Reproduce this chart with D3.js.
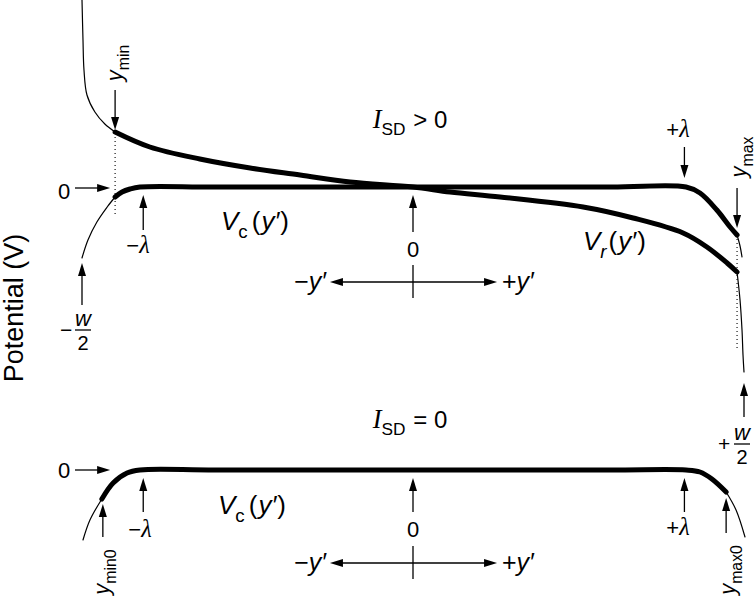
<!DOCTYPE html>
<html><head><meta charset="utf-8">
<script src="https://cdn.jsdelivr.net/npm/d3@7"></script>
<style>body{margin:0;background:#fff}svg{display:block}</style>
</head><body>
<svg id="c" width="755" height="597"></svg>
<script>
// ---- data (y' in units of w/2, potential in arbitrary units) ----
const vrTopLeftThin  = [[-1.000,1.87],[-0.997,1.47],[-0.994,1.17],[-0.985,0.92],[-0.961,0.75],[-0.931,0.63],[-0.900,0.55]];
const vrTopThick     = [[-0.900,0.55],[-0.795,0.40],[-0.644,0.28],[-0.492,0.19],[-0.341,0.12],[-0.190,0.05],[0,0],[0.112,-0.05],[0.263,-0.10],[0.514,-0.20],[0.665,-0.31],[0.816,-0.46],[0.888,-0.60],[0.949,-0.76],[0.979,-0.85]];
const vrTopRightThin = [[0.979,-0.85],[0.988,-1.13],[0.994,-1.43],[0.997,-1.68],[1.000,-1.85]];
const vcTopLeftThin  = [[-1.000,-0.71],[-0.982,-0.53],[-0.955,-0.35],[-0.924,-0.20],[-0.900,-0.10]];
const vcTopThick     = [[-0.900,-0.10],[-0.879,-0.05],[-0.855,-0.02],[-0.825,0],[-0.6,0],[0,0],[0.6,0],[0.825,0],[0.867,-0.06],[0.918,-0.23],[0.958,-0.40],[0.979,-0.48]];
const vcTopRightThin = [[0.979,-0.48],[0.988,-0.59],[0.994,-0.70]];
const vcBotLeftThin  = [[-0.997,-0.70],[-0.976,-0.50],[-0.940,-0.29]];
const vcBotThick     = [[-0.940,-0.29],[-0.906,-0.13],[-0.864,-0.03],[-0.825,0],[-0.6,0],[0,0],[0.6,0],[0.825,0],[0.867,-0.02],[0.903,-0.09],[0.946,-0.22]];
const vcBotRightThin = [[0.946,-0.22],[0.976,-0.40],[1.003,-0.67]];

// positions of the marked points along y'
const markNames = ["-lambda","+lambda","ymin","ymax","ymin0","ymax0","-w/2","+w/2","0"];
const markPos   = [-0.815, 0.82, -0.900, 0.979, -0.937, 0.946, -1.0, 1.0, 0];
const M = Object.fromEntries(markNames.map((n,i)=>[n,markPos[i]]));

const SANS = "'Liberation Sans', Arial, Helvetica, sans-serif";
const SERIF = "'Liberation Serif', 'Times New Roman', serif";

const svg = d3.select("#c");
const xS = d3.scaleLinear().domain([-1,1]).range([82,744]);
const yT = d3.scaleLinear().domain([-1,1]).range([287,87]);
const yB = d3.scaleLinear().domain([-1,1]).range([570,370]);

function curve(data, ys, w){
  const line = d3.line().x(d=>xS(d[0])).y(d=>ys(d[1])).curve(d3.curveCatmullRom.alpha(0.5));
  svg.append("path").attr("d", line(data)).attr("fill","none").attr("stroke","#000")
    .attr("stroke-width", w).attr("stroke-linecap","round").attr("stroke-linejoin","round");
}
curve(vrTopLeftThin, yT, 1.2);
curve(vrTopThick, yT, 5);
curve(vrTopRightThin, yT, 1.2);
curve(vcTopLeftThin, yT, 1.2);
curve(vcTopThick, yT, 5);
curve(vcTopRightThin, yT, 1.2);
curve(vcBotLeftThin, yB, 1.2);
curve(vcBotThick, yB, 5);
curve(vcBotRightThin, yB, 1.2);

// dotted guides
function dotted(x, y1, y2){
  svg.append("line").attr("x1",x).attr("x2",x).attr("y1",y1).attr("y2",y2)
    .attr("stroke","#000").attr("stroke-width",1.1).attr("stroke-dasharray","1,3");
}
dotted(xS(M.ymin), yT(0.54), yT(-0.28));
dotted(xS(M.ymax), yT(-0.48), yT(-1.63));

// arrows: from (x1,y1) to tip (x2,y2)
function arrow(x1,y1,x2,y2){
  const L=13, H=4;
  const dx=x2-x1, dy=y2-y1, len=Math.hypot(dx,dy), ux=dx/len, uy=dy/len;
  const bx=x2-ux*L, by=y2-uy*L;
  svg.append("line").attr("x1",x1).attr("y1",y1).attr("x2",bx+ux*2).attr("y2",by+uy*2)
    .attr("stroke","#000").attr("stroke-width",1.3);
  svg.append("path").attr("d",`M${x2},${y2}L${bx-uy*H},${by+ux*H}L${bx+uy*H},${by-ux*H}Z`).attr("fill","#000");
}
function up(x, tipY, len){ arrow(x, tipY+len, x, tipY); }
function down(x, tipY, len){ arrow(x, tipY-len, x, tipY); }

// top panel arrows
down(xS(M.ymin), yT(0.57), 40);
arrow(75, yT(-0.01), xS(-0.915), yT(-0.01));
up(xS(M["-lambda"]), yT(-0.08), 35);
up(xS(M["-w/2"]), yT(-0.76), 42);
up(xS(M["0"]), yT(-0.08), 37);
down(xS(M["+lambda"]), yT(0.09), 31);
down(xS(M.ymax), yT(-0.41), 40);
up(xS(M["+w/2"]), yT(-1.96), 34);
// y' axis
function yAxis(ys, v){
  const cx = xS(0), y = ys(v);
  arrow(cx, y, xS(-0.251), y);
  arrow(cx, y, xS(0.254), y);
  svg.append("line").attr("x1",cx).attr("x2",cx).attr("y1",y-17).attr("y2",y+16).attr("stroke","#000").attr("stroke-width",1.3);
}
yAxis(yT, -0.95);

// bottom panel arrows
arrow(75, yB(0), xS(-0.915), yB(0));
up(xS(M.ymin0), yB(-0.34), 33);
up(xS(M["-lambda"]), yB(-0.08), 34);
up(xS(M["0"]), yB(-0.08), 34);
up(xS(M["+lambda"]), yB(-0.08), 34);
up(xS(M.ymax0), yB(-0.28), 35);
yAxis(yB, -0.93);

// rich text helper
function rich(x, y, segs, opt={}){
  const size = opt.size || 22;
  const t = svg.append("text").attr("transform",`translate(${x},${y}) rotate(${opt.rotate||0})`)
    .attr("text-anchor", opt.anchor||"start").attr("font-size", size).attr("font-family", SANS).attr("fill","#000");
  let shift = 0;
  segs.forEach(s=>{
    const ts = t.append("tspan").text(s.t);
    const target = s.sub ? size*0.3 : 0;
    ts.attr("dy", target-shift); shift = target;
    if (s.sub) ts.attr("font-size", size*0.72);
    if (s.it) ts.attr("font-style","italic");
    if (s.serif) { ts.attr("font-family", SERIF); if(!s.sub) ts.attr("font-size", size*1.1); }
    if (s.dx) ts.attr("dx", s.dx);
  });
  return t;
}
const P = "\u2032", MINUS = "\u2212";

// top panel labels
rich(410, 128, [{t:"I",it:1,serif:1},{t:"SD",sub:1},{t:" > 0",dx:1}], {anchor:"middle", size:24});
rich(64, 199, [{t:"0"}], {anchor:"middle"});
rich(138, 253, [{t:MINUS},{t:"\u03BB",it:1,serif:1}], {anchor:"middle"});
rich(678, 137, [{t:"+"},{t:"\u03BB",it:1,serif:1}], {anchor:"middle"});
rich(413, 257, [{t:"0"}], {anchor:"middle"});
rich(326, 290, [{t:MINUS},{t:"y"+P,it:1}], {anchor:"end", size:25});
rich(502, 290, [{t:"+"},{t:"y"+P,it:1}], {anchor:"start", size:25});
rich(221, 230, [{t:"V",it:1},{t:"c",sub:1},{t:"(",dx:4},{t:"y"+P,it:1,dx:1},{t:")",dx:1}], {size:26});
rich(583, 250, [{t:"V",it:1},{t:"r",sub:1,it:1},{t:"(",dx:2},{t:"y"+P,it:1,dx:1},{t:")",dx:1}], {size:26});
rich(122, 63, [{t:"y",it:1},{t:"min",sub:1}], {anchor:"middle", rotate:-90});
rich(746, 157, [{t:"y",it:1},{t:"max",sub:1}], {anchor:"middle", rotate:-90});

function frac(sign, sx, cx, barY){
  rich(sx, barY+7, [{t:sign}], {anchor:"middle", size:21});
  rich(cx, barY-4, [{t:"w",it:1}], {anchor:"middle", size:22});
  svg.append("line").attr("x1",cx-8).attr("x2",cx+8).attr("y1",barY).attr("y2",barY).attr("stroke","#000").attr("stroke-width",1.3);
  rich(cx, barY+20, [{t:"2"}], {anchor:"middle", size:20});
}
frac(MINUS, 66, 83, 330);
frac("+", 724, 742, 444);

rich(23, 308, [{t:"Potential  (V)"}], {anchor:"middle", rotate:-90, size:27});

// bottom panel labels
rich(410, 428, [{t:"I",it:1,serif:1},{t:"SD",sub:1},{t:" = 0",dx:1}], {anchor:"middle", size:24});
rich(64, 478, [{t:"0"}], {anchor:"middle"});
rich(140, 537, [{t:MINUS},{t:"\u03BB",it:1,serif:1}], {anchor:"middle"});
rich(678, 535, [{t:"+"},{t:"\u03BB",it:1,serif:1}], {anchor:"middle"});
rich(413, 537, [{t:"0"}], {anchor:"middle"});
rich(326, 571, [{t:MINUS},{t:"y"+P,it:1}], {anchor:"end", size:25});
rich(502, 571, [{t:"+"},{t:"y"+P,it:1}], {anchor:"start", size:25});
rich(218, 514, [{t:"V",it:1},{t:"c",sub:1},{t:"(",dx:4},{t:"y"+P,it:1,dx:1},{t:")",dx:1}], {size:26});
rich(109, 572, [{t:"y",it:1},{t:"min0",sub:1}], {anchor:"middle", rotate:-90});
rich(735, 570, [{t:"y",it:1},{t:"max0",sub:1}], {anchor:"middle", rotate:-90});
</script>
</body></html>
